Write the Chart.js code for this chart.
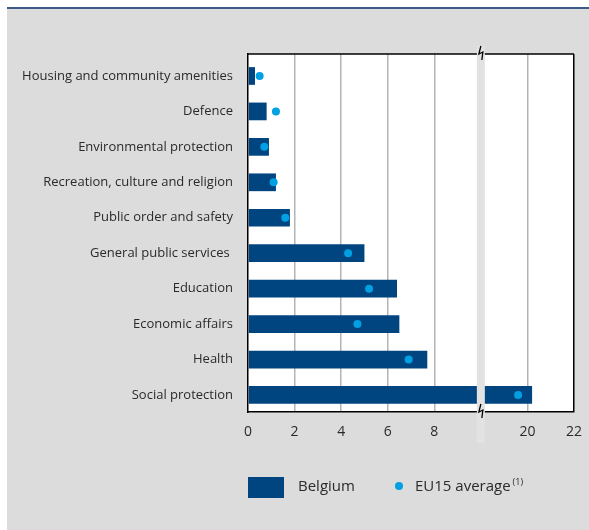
<!DOCTYPE html>
<html>
<head>
<meta charset="utf-8">
<script src="https://cdn.jsdelivr.net/npm/chart.js@4.4.1/dist/chart.umd.min.js"></script>
<style>
  html, body { margin: 0; padding: 0; background: #fff; }
  #wrap { position: relative; width: 589px; height: 530px; }
</style>
</head>
<body>
<div id="wrap"><canvas id="spending"></canvas></div>
<script>
// Government expenditure by function, % of GDP
const categories = [
    'Housing and community amenities',
    'Defence',
    'Environmental protection',
    'Recreation, culture and religion',
    'Public order and safety',
    'General public services ',
    'Education',
    'Economic affairs',
    'Health',
    'Social protection'
];
const belgium = [0.3, 0.8, 0.9, 1.2, 1.8, 5.0, 6.4, 6.5, 7.7, 20.2];
const eu15 = [0.5, 1.2, 0.7, 1.1, 1.6, 4.3, 5.2, 4.7, 6.9, 19.6];
const tickLabels = ['0', '2', '4', '6', '8', '', '20', '22'];

// the axis is cut between 10 and 18
const BREAK_AT = 10;
const BREAK_GAP = 8;
const toAxis = v => (v > BREAK_AT ? v - BREAK_GAP : v);

const FONT = '"Open Sans", "Noto Sans", sans-serif';
const TEXT = '#2a2a2a';
const BAR_BLUE = '#00457f';
const DOT_BLUE = '#00a0e3';

const frame = {
    id: 'frame',
    beforeDraw(chart) {
        const { ctx, chartArea: a } = chart;
        ctx.save();
        ctx.fillStyle = '#ffffff';
        ctx.fillRect(0, 0, chart.width, chart.height);
        ctx.fillStyle = '#dcdcdc';
        ctx.fillRect(7, 9, chart.width - 7, chart.height - 9);
        ctx.fillStyle = '#3d5a86';
        ctx.fillRect(7, 7, chart.width - 7, 2);
        ctx.fillStyle = '#ffffff';
        ctx.fillRect(a.left, a.top, a.right - a.left, a.bottom - a.top);
        ctx.restore();
    },
    afterDraw(chart) {
        const { ctx, chartArea: a } = chart;
        const xs = chart.scales.x;
        ctx.save();
        // top border
        ctx.strokeStyle = '#000';
        ctx.lineWidth = 1.5;
        ctx.beginPath();
        ctx.moveTo(a.left, a.top);
        ctx.lineTo(a.right, a.top);
        ctx.stroke();

        // break band
        const bx = xs.getPixelForValue(BREAK_AT);
        ctx.fillStyle = '#e2e2e2';
        ctx.fillRect(bx - 4, a.top - 8, 8, a.bottom - a.top + 39);

        // zigzag marks
        ctx.strokeStyle = '#000';
        ctx.lineWidth = 1.3;
        [a.top, a.bottom].forEach(y => {
            ctx.beginPath();
            ctx.moveTo(bx, y - 8);
            ctx.lineTo(bx - 2, y);
            ctx.lineTo(bx + 2, y - 2);
            ctx.lineTo(bx + 1, y + 6);
            ctx.stroke();
        });

        // legend
        const ly = 487;
        ctx.fillStyle = BAR_BLUE;
        ctx.fillRect(248, 477, 36, 21);
        ctx.fillStyle = TEXT;
        ctx.font = '15px ' + FONT;
        ctx.textBaseline = 'middle';
        ctx.textAlign = 'left';
        ctx.fillText('Belgium', 298, ly);
        ctx.fillStyle = DOT_BLUE;
        ctx.beginPath();
        ctx.arc(399, 486, 4, 0, Math.PI * 2);
        ctx.fill();
        ctx.fillStyle = TEXT;
        ctx.fillText('EU15 average', 415, ly);
        const w = ctx.measureText('EU15 average').width;
        ctx.font = '9px ' + FONT;
        ctx.fillText('(1)', 415 + w + 2, ly - 5);
        ctx.restore();
    }
};

new Chart(document.getElementById('spending'), {
    type: 'bar',
    data: {
        datasets: [
            {
                type: 'line',
                label: 'EU15 average',
                indexAxis: 'y',
                data: eu15.map((v, i) => ({ x: toAxis(v), y: i })),
                showLine: false,
                pointRadius: 4,
                pointBackgroundColor: DOT_BLUE,
                pointBorderWidth: 0,
                order: 0
            },
            {
                label: 'Belgium',
                data: belgium.map((v, i) => ({ x: toAxis(v), y: i })),
                backgroundColor: BAR_BLUE,
                barPercentage: 0.5,
                categoryPercentage: 1,
                order: 1
            }
        ]
    },
    options: {
        indexAxis: 'y',
        responsive: true,
        maintainAspectRatio: false,
        animation: false,
        layout: { padding: { top: 54, right: 15, bottom: 78, left: 0 } },
        plugins: {
            legend: { display: false },
            tooltip: { enabled: false }
        },
        scales: {
            x: {
                type: 'linear',
                min: 0,
                max: 14,
                afterFit: s => {
                    s.height = 40;
                    s.paddingLeft = 0;
                    s.paddingRight = 0;
                },
                ticks: {
                    stepSize: 2,
                    padding: 12,
                    color: TEXT,
                    font: { family: FONT, size: 14 },
                    callback: (v, i) => tickLabels[i]
                },
                grid: {
                    drawTicks: false,
                    lineWidth: 1.5,
                    color: c => {
                        const v = c.tick && c.tick.value;
                        if (v === 0 || v === BREAK_AT) return 'rgba(0,0,0,0)';
                        if (v === 14) return '#000';
                        return '#b4b4b4';
                    }
                },
                border: { color: '#000', width: 1.5 }
            },
            y: {
                type: 'linear',
                reverse: true,
                offset: false,
                min: -0.62,
                max: 9.48,
                afterFit: s => { s.width = 248; },
                afterBuildTicks: s => { s.ticks = categories.map((c, i) => ({ value: i })); },
                ticks: {
                    padding: 15,
                    color: TEXT,
                    font: { family: FONT, size: 13 },
                    callback: v => categories[v]
                },
                grid: { display: false, drawTicks: false },
                border: { color: '#000', width: 1.5 }
            }
        }
    },
    plugins: [frame]
});
</script>
</body>
</html>
